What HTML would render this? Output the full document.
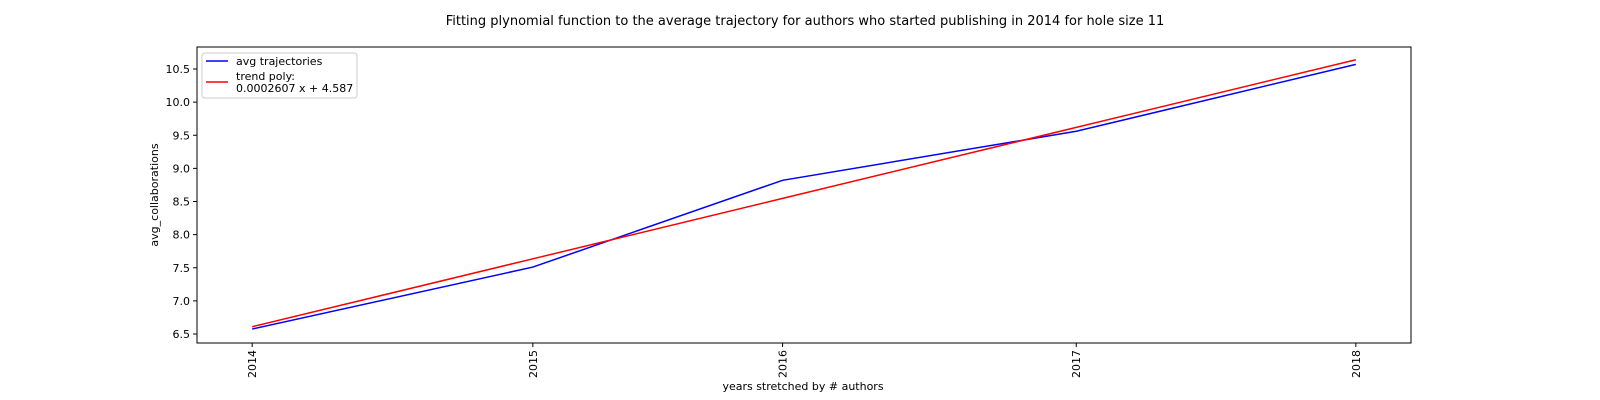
<!DOCTYPE html>
<html><head><meta charset="utf-8"><style>
html,body{margin:0;padding:0;background:#fff;width:1600px;height:400px;overflow:hidden}
svg text{font-family:"DejaVu Sans","Liberation Sans",sans-serif;fill:#000}
</style></head><body>
<svg id="chart" width="1600" height="400">
<text x="805" y="25" font-size="13" text-anchor="middle">Fitting plynomial function to the average trajectory for authors who started publishing in 2014 for hole size 11</text>
<g id="plot"></g>
<text x="803" y="390" font-size="11" text-anchor="middle">years stretched by # authors</text>
<text transform="translate(158,195) rotate(-90)" font-size="11" text-anchor="middle">avg_collaborations</text>
</svg>
<script>
const years = ["2014","2015","2016","2017","2018"];
const xValues = [7760, 11691, 15189, 19302, 23218];
const avgValues = [6.575, 7.51, 8.82, 9.56, 10.57];
const slope = 0.0002607, intercept = 4.587;
const yTicks = [6.5,7.0,7.5,8.0,8.5,9.0,9.5,10.0,10.5];

const L=197,R=1411,T=47,B=343;
const xmin=Math.min(...xValues),xmax=Math.max(...xValues),m=(xmax-xmin)*0.05;
const X=v=>L+(v-(xmin-m))/((xmax+m)-(xmin-m))*(R-L);
const Y=v=>334-(v-6.5)*66.25;
const NS="http://www.w3.org/2000/svg";
const g=document.getElementById('plot');
function mk(t,a){const e=document.createElementNS(NS,t);for(const k in a)e.setAttribute(k,a[k]);g.appendChild(e);return e;}

yTicks.forEach(v=>{
  const l=mk('line',{x1:L-4,x2:L,y1:Y(v),y2:Y(v),stroke:'#000'});
  
  
  const t=mk('text',{x:L-7,y:Y(v)+4,'font-size':11,'text-anchor':'end'});
  t.textContent=v.toFixed(1);
  
  
});
years.forEach((y,i)=>{
  const x=X(xValues[i]);
  const l=mk('line',{x1:x,x2:x,y1:B,y2:B+4,stroke:'#000'});
  
  
  const t=mk('text',{transform:`translate(${x+4},${B+7}) rotate(-90)`,'font-size':11,'text-anchor':'end'});
  t.textContent=y;
  
  
});
const trend=mk('polyline',{points:xValues.map(v=>X(v)+','+Y(slope*v+intercept)).join(' '),fill:'none',stroke:'red','stroke-width':1.5});


const avg=mk('polyline',{points:xValues.map((v,i)=>X(v)+','+Y(avgValues[i])).join(' '),fill:'none',stroke:'blue','stroke-width':1.5});


// re-draw trend under? matplotlib draws blue first then red on top
g.appendChild(trend);
const frame=mk('rect',{x:L,y:T,width:R-L,height:B-T,fill:'none',stroke:'#000','stroke-width':1});


// legend
const lg=mk('rect',{x:202,y:53,width:155,height:45,fill:'#fff',stroke:'#ccc',rx:3});


const l1=mk('line',{x1:206,x2:228,y1:61,y2:61,stroke:'blue','stroke-width':1.5});


const t1=mk('text',{x:236,y:65,'font-size':11});t1.textContent='avg trajectories';


const l2=mk('line',{x1:206,x2:228,y1:82,y2:82,stroke:'red','stroke-width':1.5});


const t2=mk('text',{x:236,y:80,'font-size':11});t2.textContent='trend poly:';


const t3=mk('text',{x:236,y:92,'font-size':11});t3.textContent='0.0002607 x + 4.587';


</script>
</body></html>
